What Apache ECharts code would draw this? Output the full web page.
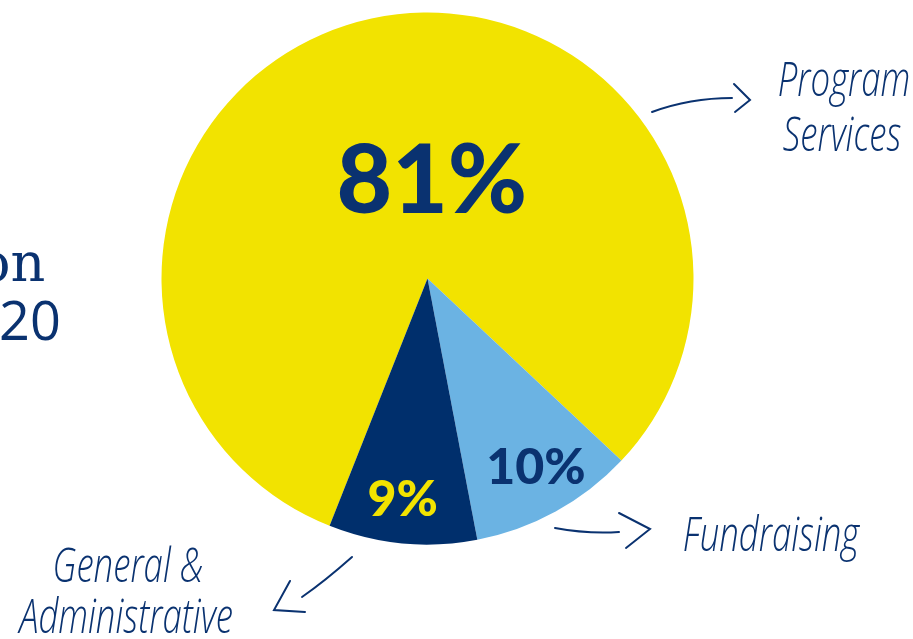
<!DOCTYPE html>
<html>
<head>
<meta charset="utf-8">
<style>
  html, body { margin: 0; padding: 0; background: #ffffff; }
  #chart { width: 913px; height: 639px; }
</style>
<script src="https://cdn.jsdelivr.net/npm/echarts@6/dist/echarts.min.js"></script>
</head>
<body>
<div id="chart"></div>
<script>
// data
const categories = ['Program Services', 'Fundraising', 'General & Administrative'];
const shares = [81, 10, 9];
const titleFragments = ['on', '20'];

const navy = '#0a3270';
const sliceColors = ['#f2e300', '#6bb3e3', '#002f6c'];
const valueColors = [navy, navy, '#f2e300'];
const valueSizes = [96, 50, 50];
const valueOffsets = [[34, 36], [43, 70], [-12, 86]];

// hand-written call-outs: where each name sits and how it is broken
const calloutLines = [['Program', 'Services'], ['Fundraising'], ['General &', 'Administrative']];
const calloutPos = [
  [[844, 83], [842, 138]],
  [[771, 538]],
  [[128, 569], [126, 620]]
];

const chart = echarts.init(document.getElementById('chart'));

const handFont = {
  fontFamily: 'Open Sans',
  fontStyle: 'italic',
  fontWeight: 300,
  fontSize: 47,
  fill: navy
};

const graphics = [];

// cropped heading on the left edge
graphics.push({
  type: 'text', left: -22, top: 240,
  style: { text: titleFragments[0], fontFamily: 'DejaVu Serif', fontSize: 54, fill: navy }
});
graphics.push({
  type: 'text', left: -1, top: 298,
  style: { text: titleFragments[1], fontFamily: 'Open Sans', fontSize: 54, fill: navy }
});

calloutLines.forEach((lines, i) => {
  lines.forEach((line, j) => {
    const p = calloutPos[i][j];
    graphics.push({
      type: 'text', x: p[0], y: p[1], scaleX: 0.74, originX: 0,
      style: Object.assign({}, handFont, { text: line, align: 'center', verticalAlign: 'middle' })
    });
  });
});

// arrows
const arrowStyle = { stroke: navy, lineWidth: 2, fill: 'none', lineCap: 'round' };
const arrows = [
  { line: [652, 112, 732, 98, 690, 98], head: [[734, 84], [750, 100], [735, 112]] },
  { line: [555, 528, 619, 532, 587, 534], head: [[619, 513], [650, 529], [626, 548]] },
  { line: [352, 557, 302, 597, 325, 581], head: [[290, 581], [274, 610], [305, 612]] }
];
arrows.forEach(a => {
  graphics.push({
    type: 'bezierCurve', silent: true,
    shape: { x1: a.line[0], y1: a.line[1], x2: a.line[2], y2: a.line[3], cpx1: a.line[4], cpy1: a.line[5] },
    style: arrowStyle
  });
  graphics.push({ type: 'polyline', silent: true, shape: { points: a.head }, style: arrowStyle });
});

chart.setOption({
  animation: false,
  graphic: graphics,
  series: [{
    type: 'pie',
    center: [427.5, 278.5],
    radius: 266,
    startAngle: 248.4,
    clockwise: true,
    silent: true,
    labelLine: { show: false },
    data: categories.map((name, i) => ({
      name: name,
      value: shares[i],
      itemStyle: { color: sliceColors[i] },
      label: {
        show: true,
        position: 'inside',
        formatter: '{c}%',
        color: valueColors[i],
        fontFamily: 'Lato',
        fontWeight: 900,
        fontSize: valueSizes[i],
        offset: valueOffsets[i]
      }
    }))
  }]
});
</script>
</body>
</html>
